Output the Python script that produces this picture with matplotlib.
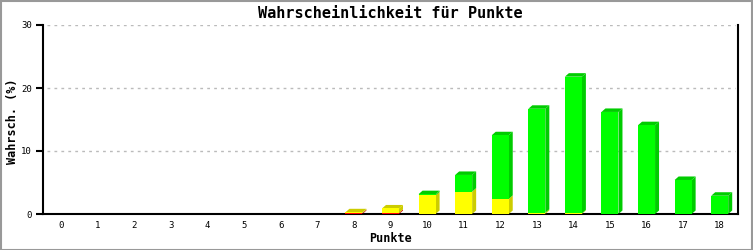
import matplotlib
matplotlib.use("Agg")
import matplotlib.pyplot as plt
from matplotlib.patches import Polygon, Rectangle
import numpy as np

categories = [str(i) for i in range(19)]
red_vals = [0, 0, 0, 0, 0, 0, 0, 0, 0.15, 0.18, 0, 0, 0, 0, 0, 0, 0, 0, 0]
yellow_vals = [0, 0, 0, 0, 0, 0, 0, 0, 0.12, 0.7, 2.95, 3.55, 2.4, 0.2, 0.1, 0, 0, 0, 0]
green_vals = [0, 0, 0, 0, 0, 0, 0, 0, 0, 0, 0.2, 2.65, 10.1, 16.5, 21.7, 16.2, 14.1, 5.4, 2.9]
yticks = [0, 10, 20, 30]

series = [
    (red_vals, "#ff0000", "#cc0000"),
    (yellow_vals, "#ffff00", "#cccc00"),
    (green_vals, "#00ff00", "#00cc00"),
]

W, H, DPI = 753, 250, 100
fig = plt.figure(figsize=(W / DPI, H / DPI), dpi=DPI)
fig.patch.set_facecolor("white")
fig.patches.append(Rectangle((0.5 / W, 0.5 / H), 1 - 1.5 / W, 1 - 1.5 / H,
                             transform=fig.transFigure, fill=False,
                             edgecolor="#999999", linewidth=1.5, zorder=10))

left, right, top, bottom = 43, 738, 25, 214
ax = fig.add_axes([left / W, 1 - bottom / H, (right - left) / W, (bottom - top) / H])
n = len(categories)
ax.set_xlim(-0.5, n - 0.5)
ax.set_ylim(0, 30)

# pixel -> data conversions for 3D depth
px_x = (n) / (right - left)
px_y = 30 / (bottom - top)
dx = 4 * px_x
dy = 3.5 * px_y
bw = 17 * px_x

x = np.arange(n)
base = np.zeros(n)
tops = np.array(red_vals) + np.array(yellow_vals) + np.array(green_vals)
for vals, fc, sc in series:
    vals = np.array(vals, dtype=float)
    for i in range(n):
        v = vals[i]
        if v <= 0:
            continue
        x0 = x[i] - bw / 2
        x1 = x[i] + bw / 2
        y0 = base[i]
        y1 = base[i] + v
        ax.add_patch(Polygon([(x1, y0), (x1 + dx, y0 + dy), (x1 + dx, y1 + dy), (x1, y1)],
                             closed=True, facecolor=sc, edgecolor="none", zorder=3))
        if abs(y1 - tops[i]) < 1e-9:
            ax.add_patch(Polygon([(x0, y1), (x1, y1), (x1 + dx, y1 + dy), (x0 + dx, y1 + dy)],
                                 closed=True, facecolor=sc, edgecolor="none", zorder=3))
    ax.bar(x, vals, bottom=base, width=bw, color=fc, edgecolor="none", zorder=4)
    base = base + vals

for yv in yticks[1:]:
    ax.plot([-0.5 + 4 * px_x, n - 0.5 - 3 * px_x], [yv, yv], color="#bbbbbb",
            linestyle=(0, (2, 3)), linewidth=1, zorder=1)

ax.spines["top"].set_visible(False)
for s in ["left", "bottom", "right"]:
    ax.spines[s].set_linewidth(1.5)
    ax.spines[s].set_color("black")

mono = "DejaVu Sans Mono"
ax.set_yticks(yticks)
ax.set_yticklabels([str(t) for t in yticks], fontfamily=mono, fontsize=6.5)
ax.tick_params(axis="y", length=5, width=1.5, pad=3)
ax.set_xticks(x)
ax.set_xticklabels(categories, fontfamily=mono, fontsize=6.5)
ax.tick_params(axis="x", length=0, pad=5)

fig.text(0.5 * (left + right) / W, 1 - 13 / H, "Wahrscheinlichkeit für Punkte",
         fontfamily=mono, fontweight="bold", fontsize=11, ha="center", va="center")
fig.text(13 / W, 1 - 121 / H, "Wahrsch. (%)", fontfamily=mono, fontweight="bold",
         fontsize=8.5, rotation=90, ha="center", va="center")
fig.text(0.5 * (left + right) / W, 1 - 239 / H, "Punkte", fontfamily=mono,
         fontweight="bold", fontsize=8.5, ha="center", va="center")

fig.savefig("out.png", dpi=DPI)
